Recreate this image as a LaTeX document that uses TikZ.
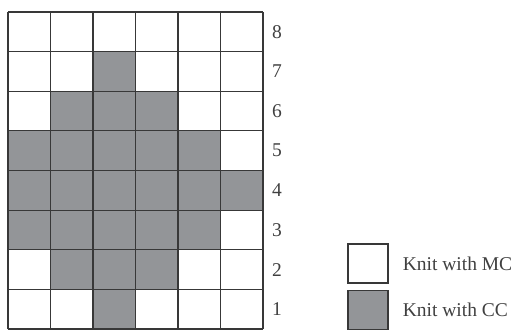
\documentclass[tikz,border=0pt]{standalone}
\usepackage{fontspec}
\setmainfont{Liberation Serif}
\usetikzlibrary{positioning}
\definecolor{ccgray}{HTML}{939598}
\definecolor{gridline}{HTML}{383838}
\definecolor{labelgray}{HTML}{404040}

\begin{document}
\begin{tikzpicture}[x=1pt, y=1pt,
    cell/.style={draw=gridline, line width=1.2pt},
    rowlabel/.style={text=labelgray, font=\fontsize{19.5}{22}\selectfont, inner sep=0pt},
    keybox/.style={draw=gridline, line width=1.2pt, minimum width=40pt, minimum height=39pt, inner sep=0pt},
    keytext/.style={text=labelgray, font=\fontsize{19.5}{22}\selectfont, inner sep=0pt}]
    \useasboundingbox (0,0) rectangle (521,330);
    % contrast colour stitches, rows counted from the bottom
    \foreach \r/\cols in {1/{3}, 2/{2,3,4}, 3/{1,2,3,4,5}, 4/{1,2,3,4,5,6}, 5/{1,2,3,4,5}, 6/{2,3,4}, 7/{3}} {
        \foreach \c in \cols {
            \fill[ccgray] (8+\c*42.5-42.5, 1+\r*39.625-39.625) rectangle (8+\c*42.5, 1+\r*39.625);
        }
    }
    % chart grid
    \foreach \i in {0,...,6} {
        \draw[cell] (8+\i*42.5, 1) -- (8+\i*42.5, 318);
    }
    \foreach \j in {0,...,8} {
        \draw[cell] (8, 1+\j*39.625) -- (263, 1+\j*39.625);
    }
    % row numbers
    \foreach \r in {1,...,8} {
        \node[rowlabel] (row\r) at (277, 1+\r*39.625-19.8) {\r};
    }
    % key
    \node[keybox, fill=white] (mc) at (368, 66.5) {};
    \node[keybox, fill=ccgray, below=6pt of mc] (cc) {};
    \node[keytext, right=14pt of mc] (mclabel) {Knit with MC};
    \node[keytext, right=14pt of cc] (cclabel) {Knit with CC};
\end{tikzpicture}
\end{document}
